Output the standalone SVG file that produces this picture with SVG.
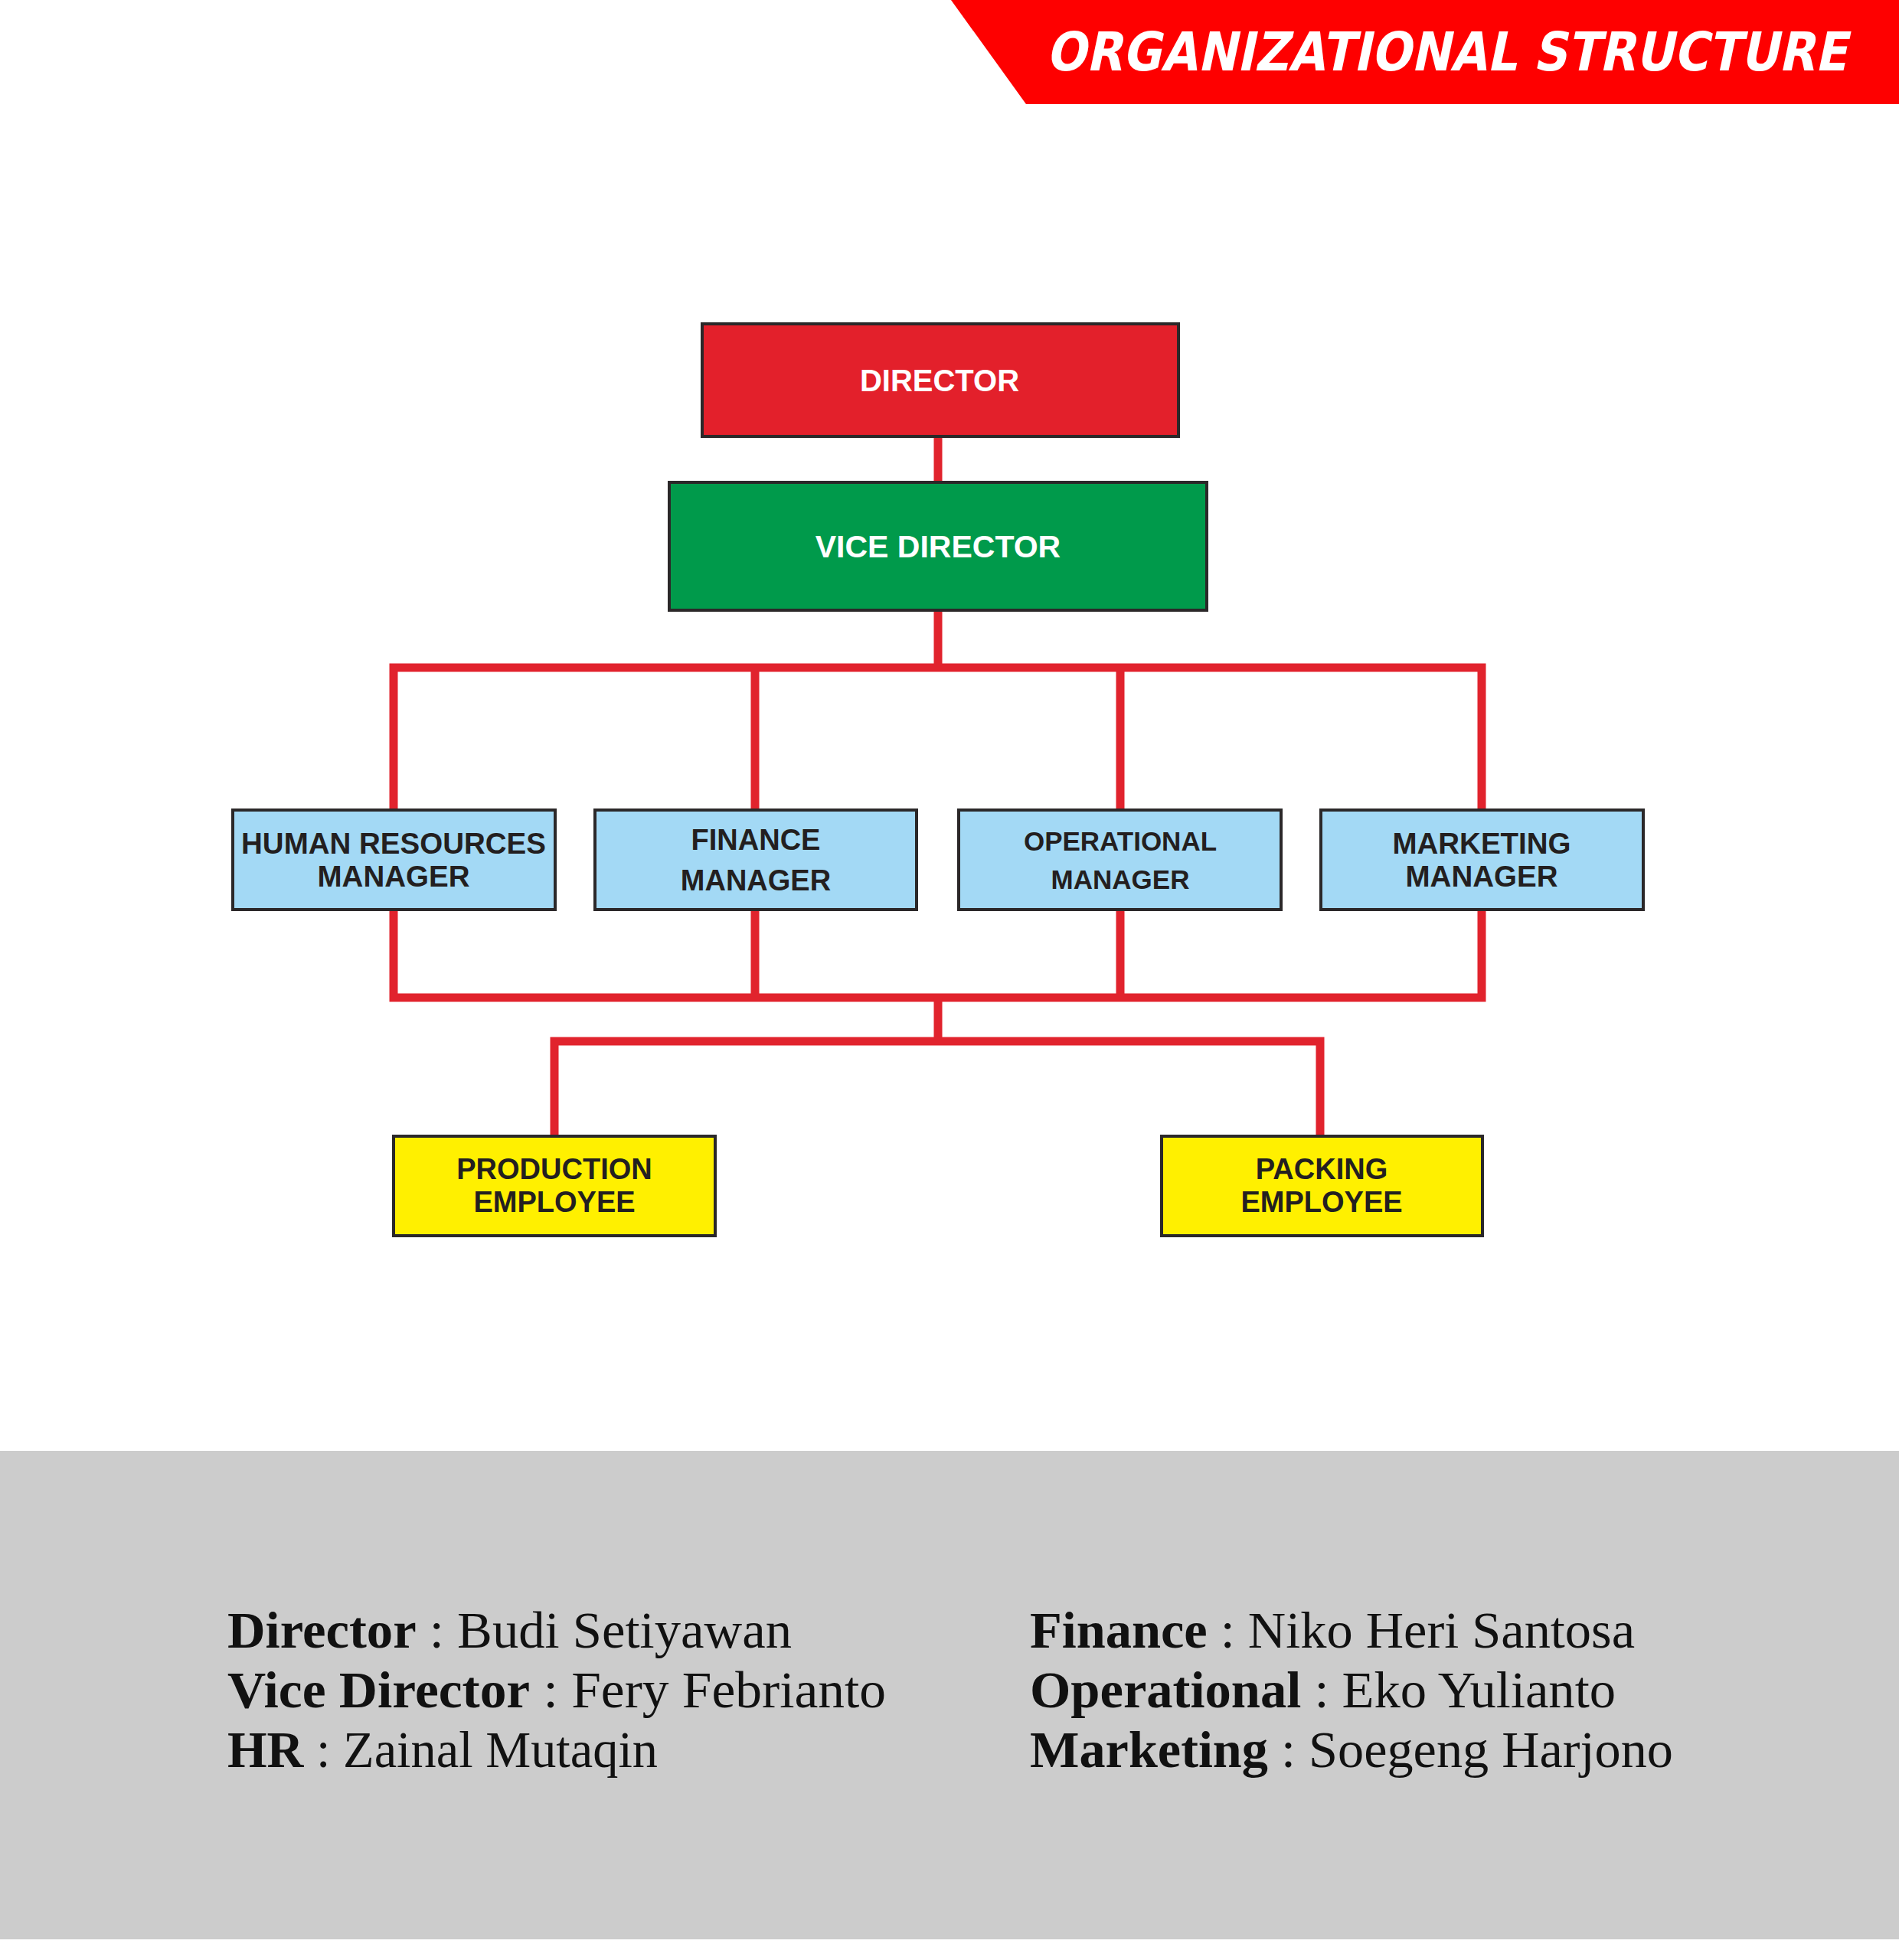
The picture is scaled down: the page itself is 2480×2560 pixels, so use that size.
<svg xmlns="http://www.w3.org/2000/svg" width="2480" height="2560" viewBox="0 0 2480 2560">
<style>
.box{stroke:#2b2829;stroke-width:4}
.lbl{font-family:"Liberation Sans",Arial,sans-serif;font-weight:bold;text-anchor:middle}
.dark{fill:#231f20}
.white{fill:#ffffff}
.conn{fill:none;stroke:#e1232d;stroke-width:11;stroke-linejoin:miter;stroke-linecap:butt}
.info{font-family:"Liberation Serif","Times New Roman",serif;font-size:68px;fill:#111111}
.b{font-weight:bold}
</style>
<rect x="0" y="0" width="2480" height="2560" fill="#ffffff"/>
<g id="header">
<polygon points="1242,0 2480,0 2480,136 1340,136" fill="#fe0000"/>
<text x="1366" y="92" font-family="DejaVu Sans,sans-serif" font-weight="bold" font-size="70" fill="#ffffff" textLength="1046" lengthAdjust="spacingAndGlyphs" transform="matrix(1 0 -0.21 1 19.3 0)">ORGANIZATIONAL STRUCTURE</text>
</g>
<g id="connectors">
<path class="conn" d="M1225,570 V630"/>
<path class="conn" d="M1225,797 V872 M514,1058 V872 H1935 V1058 M986,872 V1058 M1463,872 V1058"/>
<path class="conn" d="M514,1188 V1303 H1935 V1188 M986,1188 V1303 M1463,1188 V1303"/>
<path class="conn" d="M1225,1303 V1360 M724,1484 V1360 H1724 V1484"/>
</g>
<g id="director">
<rect class="box" x="917" y="423" width="622" height="147" fill="#e3202b"/>
<text class="lbl white" x="1227" y="511" font-size="40">DIRECTOR</text>
</g>
<g id="vice-director">
<rect class="box" x="874" y="630" width="702" height="167" fill="#009a4b"/>
<text class="lbl white" x="1225" y="728" font-size="41">VICE DIRECTOR</text>
</g>
<g id="hr-manager">
<rect class="box" x="304" y="1058" width="421" height="130" fill="#a3d9f5"/>
<text class="lbl dark" x="514" y="1115" font-size="38.5">HUMAN RESOURCES</text>
<text class="lbl dark" x="514" y="1158" font-size="38.5">MANAGER</text>
</g>
<g id="finance-manager">
<rect class="box" x="777" y="1058" width="420" height="130" fill="#a3d9f5"/>
<text class="lbl dark" x="987" y="1110" font-size="38">FINANCE</text>
<text class="lbl dark" x="987" y="1163" font-size="38">MANAGER</text>
</g>
<g id="operational-manager">
<rect class="box" x="1252" y="1058" width="421" height="130" fill="#a3d9f5"/>
<text class="lbl dark" x="1463" y="1111" font-size="35">OPERATIONAL</text>
<text class="lbl dark" x="1463" y="1161" font-size="35">MANAGER</text>
</g>
<g id="marketing-manager">
<rect class="box" x="1725" y="1058" width="421" height="130" fill="#a3d9f5"/>
<text class="lbl dark" x="1935" y="1115" font-size="38.5">MARKETING</text>
<text class="lbl dark" x="1935" y="1158" font-size="38.5">MANAGER</text>
</g>
<g id="production-employee">
<rect class="box" x="514" y="1484" width="420" height="130" fill="#fff000"/>
<text class="lbl dark" x="724" y="1540" font-size="38">PRODUCTION</text>
<text class="lbl dark" x="724" y="1583" font-size="38">EMPLOYEE</text>
</g>
<g id="packing-employee">
<rect class="box" x="1517" y="1484" width="419" height="130" fill="#fff000"/>
<text class="lbl dark" x="1726" y="1540" font-size="38">PACKING</text>
<text class="lbl dark" x="1726" y="1583" font-size="38">EMPLOYEE</text>
</g>
<g id="info-panel">
<rect x="0" y="1895" width="2480" height="638" fill="#cccccc"/>
<text class="info" x="297" y="2152" textLength="737" lengthAdjust="spacingAndGlyphs"><tspan class="b">Director</tspan> : Budi Setiyawan</text>
<text class="info" x="297" y="2230" textLength="860" lengthAdjust="spacingAndGlyphs"><tspan class="b">Vice Director</tspan> : Fery Febrianto</text>
<text class="info" x="297" y="2308" textLength="562" lengthAdjust="spacingAndGlyphs"><tspan class="b">HR</tspan> : Zainal Mutaqin</text>
<text class="info" x="1345" y="2152" textLength="790" lengthAdjust="spacingAndGlyphs"><tspan class="b">Finance</tspan> : Niko Heri Santosa</text>
<text class="info" x="1345" y="2230" textLength="765" lengthAdjust="spacingAndGlyphs"><tspan class="b">Operational</tspan> : Eko Yulianto</text>
<text class="info" x="1345" y="2308" textLength="840" lengthAdjust="spacingAndGlyphs"><tspan class="b">Marketing</tspan> : Soegeng Harjono</text>
</g>
</svg>
